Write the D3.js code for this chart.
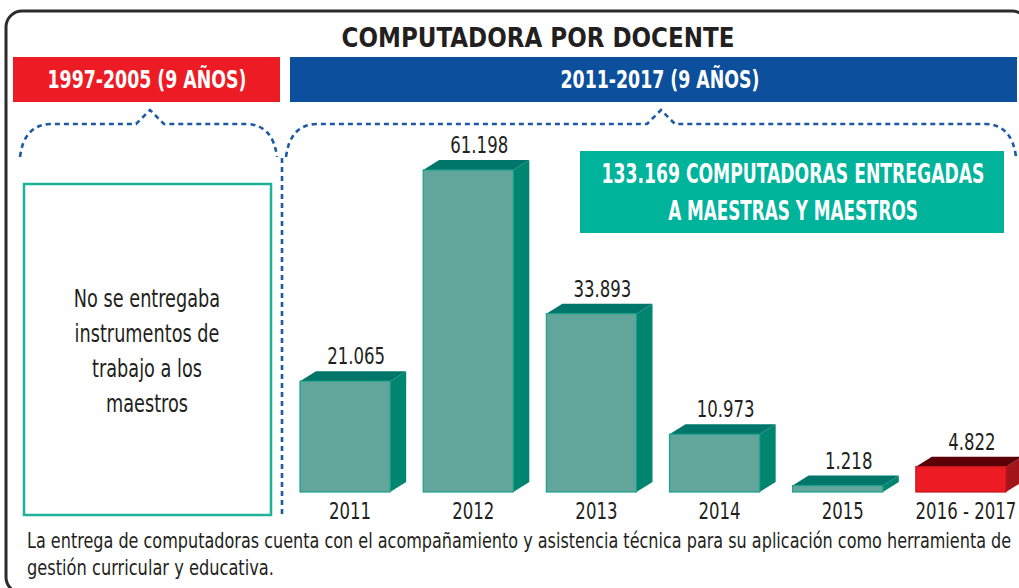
<!DOCTYPE html>
<html>
<head>
<meta charset="utf-8">
<script src="https://cdn.jsdelivr.net/npm/d3@7.9.0/dist/d3.min.js"></script>
<style>
  body { margin: 0; background: #fff; }
  svg text { font-family: "DejaVu Sans Condensed", "Liberation Sans Narrow", sans-serif; fill: #231f20; }
</style>
</head>
<body>
<svg id="chart" width="1019" height="588"></svg>
<script>
// data
const categories = ['2011', '2012', '2013', '2014', '2015', '2016 - 2017'];
const values = [21065, 61198, 33893, 10973, 1218, 4822];
const highlighted = ['2016 - 2017'];

const title = 'COMPUTADORA POR DOCENTE';
const periods = ['1997-2005 (9 AÑOS)', '2011-2017 (9 AÑOS)'];
const noteLines = ['No se entregaba', 'instrumentos de', 'trabajo a los', 'maestros'];
const calloutLines = ['133.169 COMPUTADORAS ENTREGADAS', 'A MAESTRAS Y MAESTROS'];
const footerLines = [
  'La entrega de computadoras cuenta con el acompañamiento y asistencia técnica para su aplicación como herramienta de',
  'gestión curricular y educativa.'
];

const svg = d3.select('#chart');
const fmt = d3.formatLocale({ decimal: ',', thousands: '.', grouping: [3], currency: ['', ''] }).format(',d');

// text squeezed horizontally, the source font is a condensed one
// k < 1 squeezes by factor, or pass width to fit an exact width
function label(parent, x, y, str, size, opt = {}) {
  const t = parent.append('text')
    .attr('font-size', size)
    .attr('text-anchor', opt.anchor || 'middle')
    .attr('font-weight', opt.bold ? 'bold' : null)
    .text(str);
  if (opt.color) t.style('fill', opt.color);
  let k = opt.k || 0.84;
  if (opt.width) k = opt.width / t.node().getComputedTextLength();
  t.attr('transform', `translate(${x},${y}) scale(${k},1)`);
  return t;
}

// outer frame (runs past the right and bottom edges)
svg.append('rect')
  .attr('x', 6).attr('y', 11).attr('width', 1022).attr('height', 582)
  .attr('rx', 16)
  .attr('fill', 'none').attr('stroke', '#2b2b2b').attr('stroke-width', 3);

label(svg, 538, 47, title, 27, { bold: true, width: 393 });

// period headers
const headers = [
  { x: 13, w: 267, color: '#ed1c24', cx: 147 },
  { x: 290, w: 727, color: '#0c4f9c', cx: 660 }
];
headers.forEach((h, i) => {
  svg.append('rect').attr('x', h.x).attr('y', 57).attr('width', h.w).attr('height', 45).attr('fill', h.color);
  label(svg, h.cx, 88, periods[i], 24, { bold: true, width: 199, color: '#fff' });
});

// dotted braces
function brace(x0, x1, peak) {
  const p = d3.path();
  p.moveTo(x0, 157);
  p.quadraticCurveTo(x0 + 4, 125, x0 + 30, 124);
  p.lineTo(peak - 14, 124);
  p.lineTo(peak, 110);
  p.lineTo(peak + 14, 124);
  p.lineTo(x1 - 30, 124);
  p.quadraticCurveTo(x1 - 4, 125, x1, 157);
  return p.toString();
}
const dotted = { stroke: '#1c5aa6', 'stroke-width': 2.6, 'stroke-dasharray': '5,4', fill: 'none' };
[[20, 277, 150], [286, 1016, 661]].forEach(([a, b, c]) => {
  const path = svg.append('path').attr('d', brace(a, b, c));
  Object.entries(dotted).forEach(([k, v]) => path.attr(k, v));
});
const vline = svg.append('line').attr('x1', 282).attr('x2', 282).attr('y1', 158).attr('y2', 517);
Object.entries(dotted).forEach(([k, v]) => vline.attr(k, v));

// left note box
svg.append('rect')
  .attr('x', 24).attr('y', 184).attr('width', 247).attr('height', 331)
  .attr('fill', 'none').attr('stroke', '#1db39a').attr('stroke-width', 2.5);
noteLines.forEach((d, i) => label(svg, 147, 307 + i * 35, d, 24, { k: 0.82 }));

// bars
const x = d3.scaleBand().domain(categories).range([300, 1006]).paddingInner(0.268).paddingOuter(0);
const y = d3.scaleLinear().domain([0, d3.max(values)]).range([492, 170]);
const dx = 16, dy = 10;
const palette = {
  normal: { front: '#62a69b', stroke: '#1aa08a', top: '#00766a', side: '#008571' },
  hot: { front: '#ed1c24', stroke: '#c4161d', top: '#5c0007', side: '#a3151b' }
};

const bars = svg.append('g').selectAll('g').data(categories.map((c, i) => ({ c, v: values[i] }))).join('g');
bars.each(function (d) {
  const g = d3.select(this);
  const c = highlighted.includes(d.c) ? palette.hot : palette.normal;
  const x0 = x(d.c), w = x.bandwidth(), y0 = y(d.v), b = y(0);
  g.append('polygon')
    .attr('points', [[x0 + w, y0], [x0 + w + dx, y0 - dy], [x0 + w + dx, b - dy], [x0 + w, b]].join(' '))
    .attr('fill', c.side);
  g.append('polygon')
    .attr('points', [[x0, y0], [x0 + dx, y0 - dy], [x0 + w + dx, y0 - dy], [x0 + w, y0]].join(' '))
    .attr('fill', c.top);
  g.append('rect')
    .attr('x', x0).attr('y', y0).attr('width', w).attr('height', b - y0)
    .attr('fill', c.front).attr('stroke', c.stroke).attr('stroke-width', 1.2);
  label(g, x0 + (w + dx) / 2 + 3, y0 - 17, fmt(d.v), 23, { k: 0.8 });
  label(g, x0 + w / 2 + 5, 519, d.c, 23, { k: 0.8 });
});

// callout
svg.append('rect')
  .attr('x', 580).attr('y', 151).attr('width', 424).attr('height', 82)
  .attr('fill', '#00b39b');
calloutLines.forEach((d, i) =>
  label(svg, 793, 183 + i * 37, d, 26, { bold: true, width: [383, 250][i], color: '#fff' }));

// footer
footerLines.forEach((d, i) =>
  label(svg, 27, 548 + i * 27, d, 22, i === 0 ? { anchor: 'start', width: 985 } : { anchor: 'start', k: 0.82 }));
</script>
</body>
</html>
